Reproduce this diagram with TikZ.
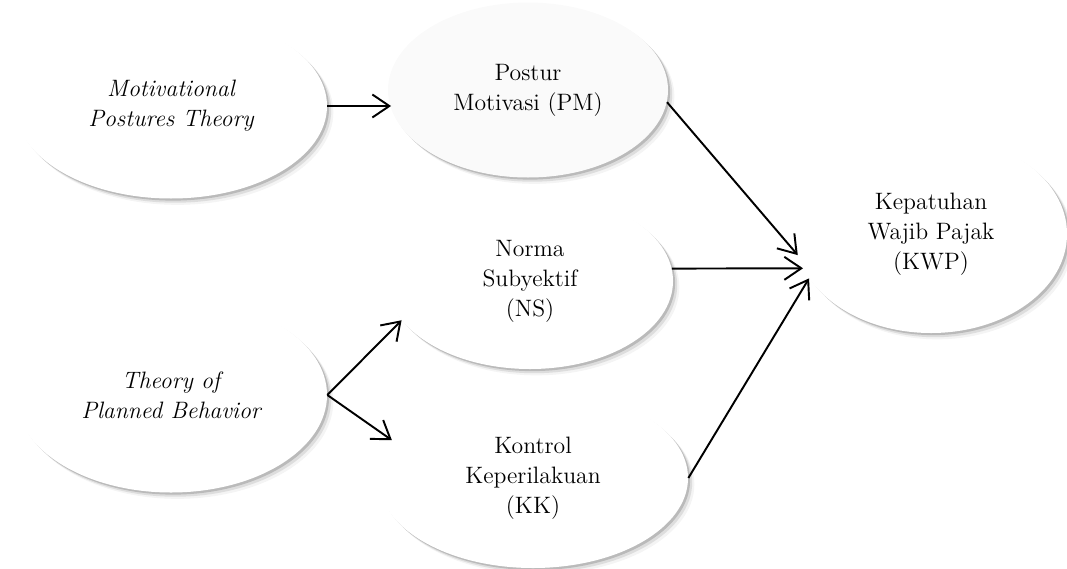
\documentclass[tikz,border=0pt]{standalone}
\usepackage{tikz}
\usetikzlibrary{arrows.meta, positioning, shapes.geometric, shadows}
\definecolor{elFill}{RGB}{255,255,255}
\definecolor{elShade}{RGB}{60,60,60}

\begin{document}
\begin{tikzpicture}[
    konsep/.style={ellipse, fill=elFill, align=center, font=\fontsize{13.5}{17}\selectfont, inner sep=0pt,
        drop shadow={shadow xshift=1.2pt, shadow yshift=-1.2pt, opacity=0.22, fill=elShade},
        drop shadow={shadow xshift=2.4pt, shadow yshift=-2.4pt, opacity=0.12, fill=elShade},
        drop shadow={shadow xshift=3.6pt, shadow yshift=-3.6pt, opacity=0.06, fill=elShade}},
    teori/.style={konsep, minimum width=6.24cm, minimum height=3.7cm, font=\fontsize{13.5}{17}\selectfont\itshape},
    arrow/.style={-{Straight Barb[length=3.4mm, width=4.6mm, line width=1.1pt]}, line width=1.1pt, black}
]
\useasboundingbox (0,0) rectangle (21.34,11.36);

% Teori (kiri)
\node[teori] (mpt) at (3.42,9.24) {Motivational\\Postures Theory};
\node[teori, minimum height=3.9cm] (tpb) at (3.42,3.46) {Theory of\\Planned Behavior};

% Variabel independen
\node[konsep, minimum width=5.6cm, minimum height=3.5cm, fill=gray!4] (pm) at (10.56,9.56) {Postur\\Motivasi (PM)};
\node[konsep, minimum width=5.72cm, minimum height=3.52cm] (ns) at (10.6,5.74) {Norma\\Subyektif\\(NS)};
\node[konsep, minimum width=6.2cm, minimum height=3.6cm] (kk) at (10.66,1.8) {Kontrol\\Keperilakuan\\(KK)};

% Variabel dependen
\node[konsep, minimum width=5.44cm, minimum height=3.96cm] (kwp) at (18.62,6.68) {Kepatuhan\\Wajib Pajak\\(KWP)};

% Arrows
\draw[arrow] (mpt.east) -- (mpt.east -| pm.188);
\draw[arrow] (tpb.east) -- (ns.197);
\draw[arrow] (tpb.east) -- (kk.165);

\draw[arrow] (pm.355) -- (kwp.189);
\draw[arrow] (ns.5) -- (kwp.195);
\draw[arrow] (kk.east) -- (kwp.200);

\end{tikzpicture}
\end{document}
